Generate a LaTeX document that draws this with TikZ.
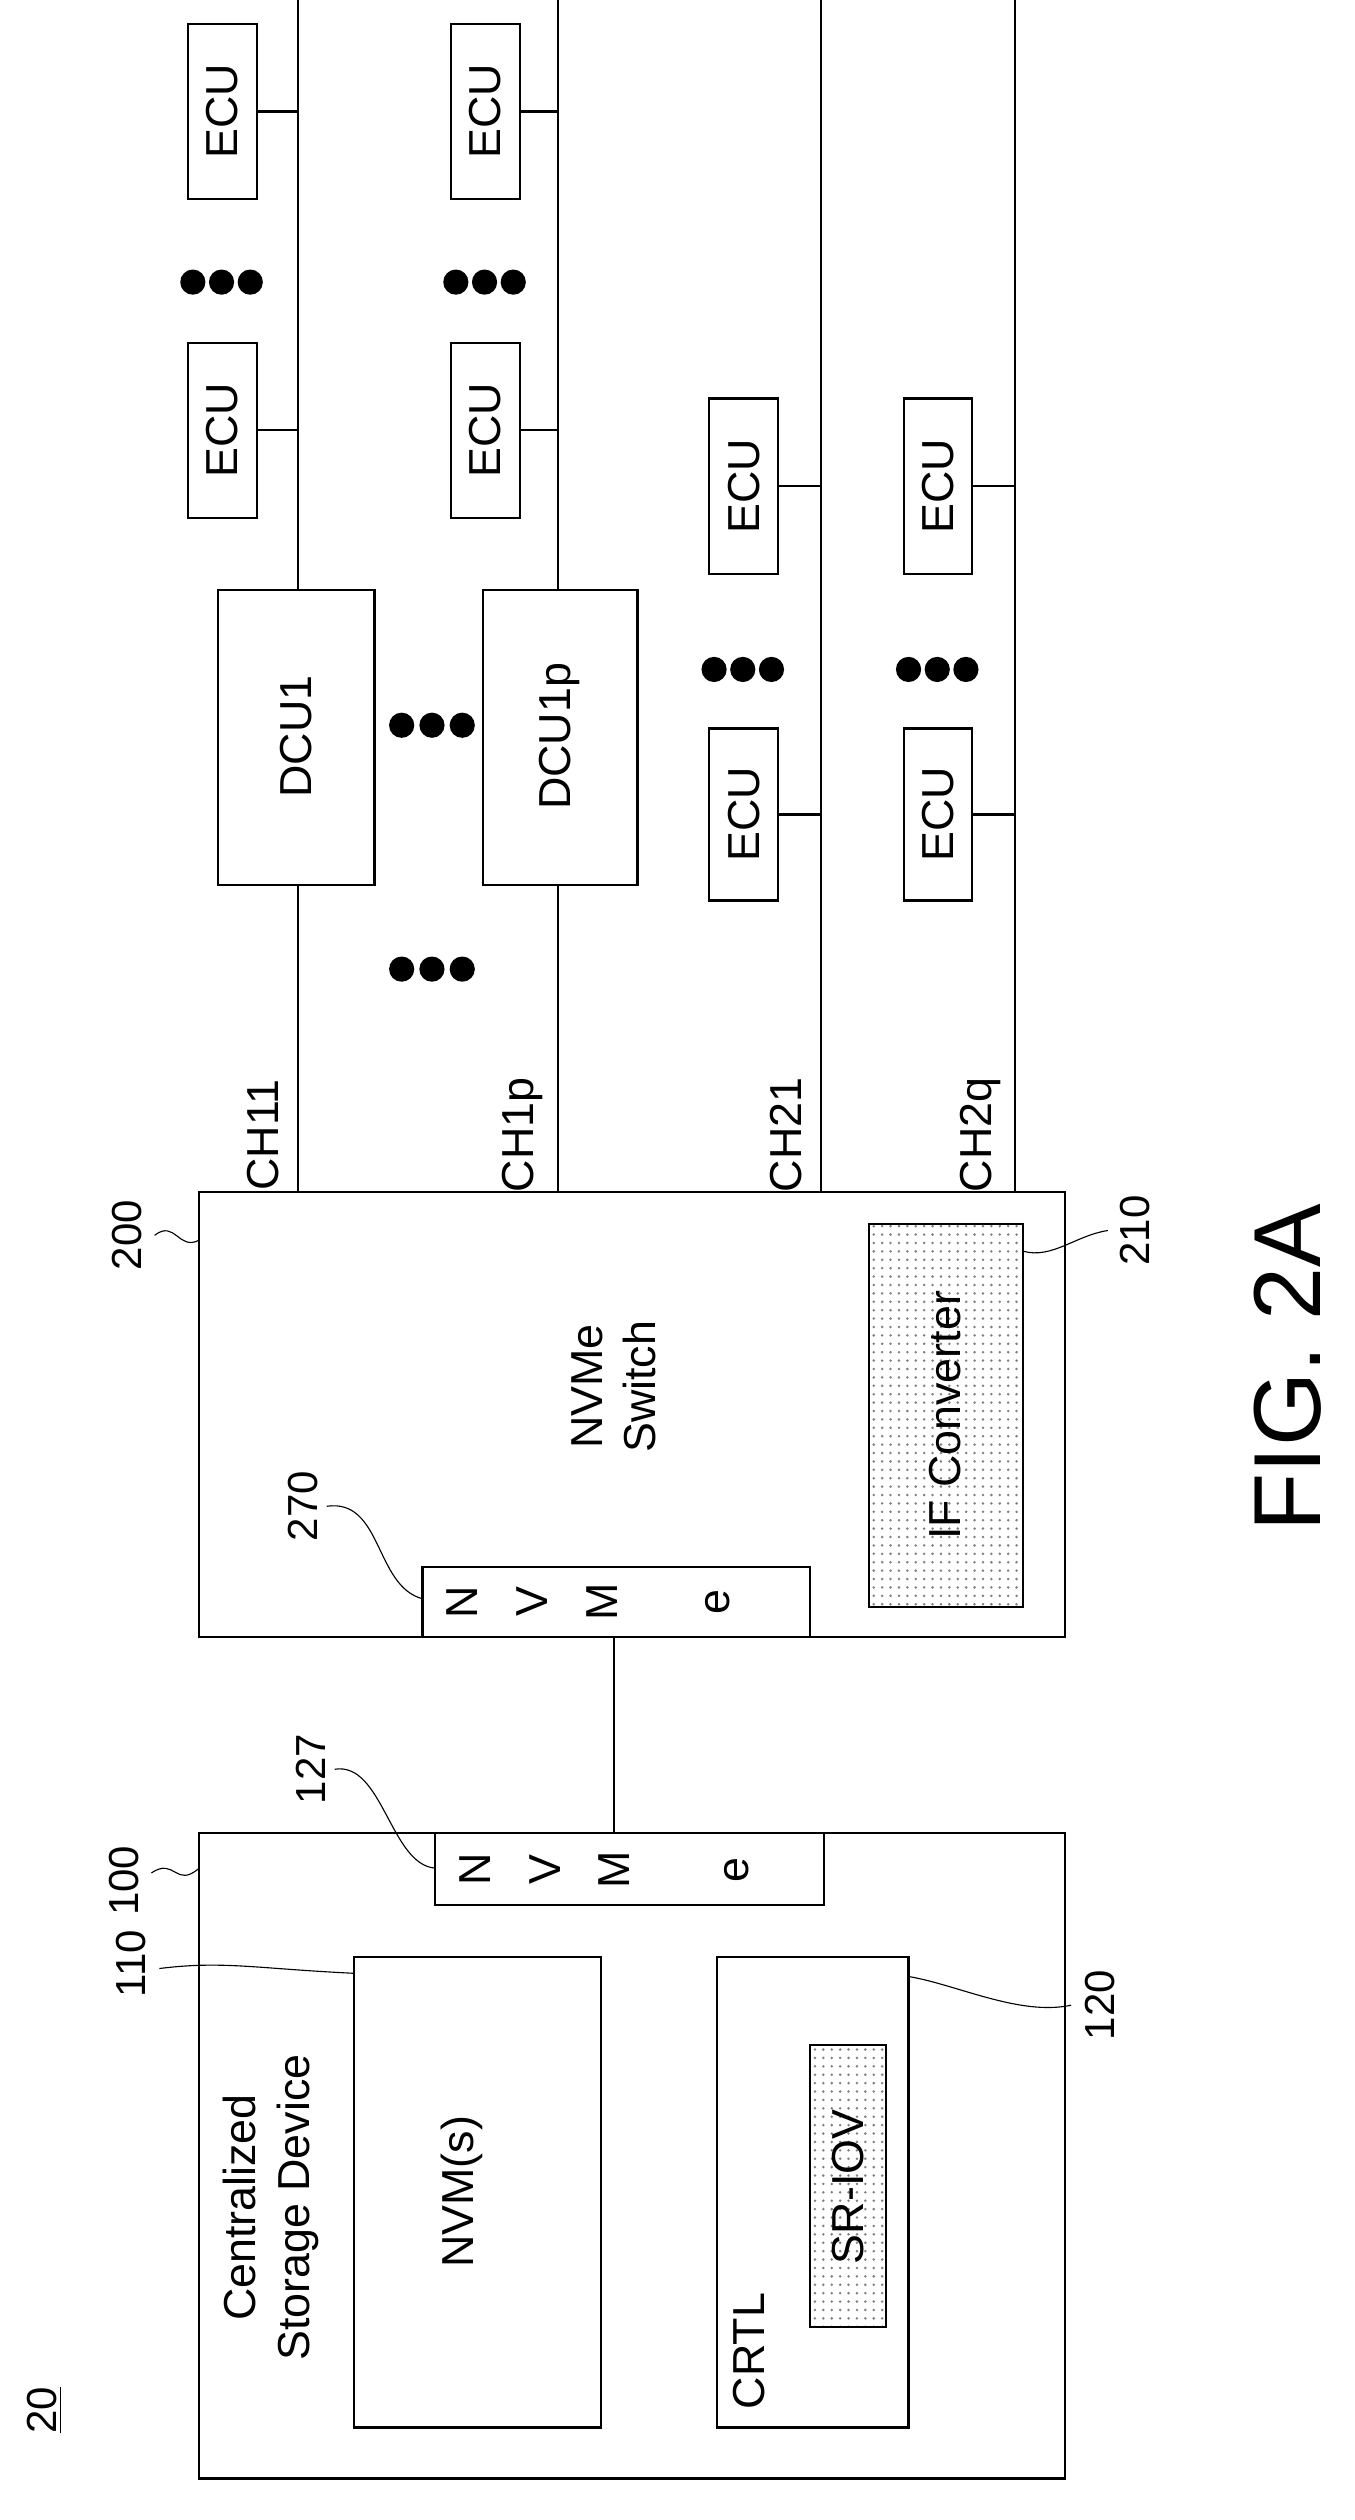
\documentclass[tikz,border=0pt]{standalone}
\usepackage{fontspec}
\setmainfont{Liberation Sans}
\usetikzlibrary{patterns}
\begin{document}
\begin{tikzpicture}[x=0.02cm, y=-0.02cm,
box/.style = {draw, thick, inner sep=0pt},
txt/.style = {rotate=90, font=\fontsize{16}{19}\selectfont, align=center},
ref/.style = {rotate=90, font=\fontsize{15}{18}\selectfont},
shade/.style = {box, pattern=dots, pattern color=gray},
bigdots/.style = {circle, fill=black, inner sep=0pt, minimum size=9pt},
    thick
                        ]
\useasboundingbox (0,0) rectangle (850,1581);

% storage device
\draw[box] (125,1150) rectangle (668,1555);
\draw[box] (222,1228) rectangle (377,1523);
\node[txt] (nvms) at (290,1375) {NVM(s)};
\draw[box] (450,1228) rectangle (570,1523);
\node[txt] (crtl) at (470,1475) {CRTL};
\draw[shade] (508,1283) rectangle (556,1460);
\node[txt] (sriov) at (532,1372) {SR-IOV};
\node[txt] (csd) at (170,1385) {Centralized\\Storage Device};
\draw[box, fill=white] (273,1150) rectangle (517,1195);
\foreach \l/\x in {N/298, V/342, M/385, e/462}
{
    \node[txt] at (\x,1173) {\l};
}

% link
\coordinate (l1) at (385,1150);
\coordinate (l2) at (385,1027);
\draw (l1) -- (l2);

% switch
\draw[box] (125,748) rectangle (668,1027);
\node[txt] (sw) at (385,870) {NVMe\\Switch};
\draw[box, fill=white] (265,983) rectangle (508,1027);
\foreach \l/\x in {N/290, V/334, M/378, e/450}
{
    \node[txt] at (\x,1005) {\l};
}
\draw[shade] (545,768) rectangle (642,1008);
\node[txt] (ifc) at (593,888) {IF Converter};

% reference labels
\node[ref] (r100) at (78,1180) {100};
\node[ref] (r110) at (82,1232) {110};
\node[ref] (r127) at (195,1110) {127};
\node[ref] (r120) at (690,1258) {120};
\node[ref] (r270) at (190,945) {270};
\node[ref] (r200) at (80,775) {200};
\node[ref] (r210) at (712,772) {210};
\draw[thin] (95,1175) .. controls (110,1165) and (110,1185) .. (125,1172);
\draw[thin] (100,1235) .. controls (140,1230) and (160,1235) .. (222,1238);
\draw[thin] (210,1110) .. controls (240,1105) and (245,1170) .. (273,1172);
\draw[thin] (570,1240) .. controls (600,1245) and (640,1265) .. (672,1258);
\draw[thin] (205,945) .. controls (240,940) and (235,995) .. (265,1003);
\draw[thin] (97,775) .. controls (110,765) and (112,785) .. (125,778);
\draw[thin] (642,785) .. controls (660,790) and (675,775) .. (695,772);

% channels
\foreach \x/\n in {187/CH11, 350/CH1p, 515/CH21, 637/CH2q}
{
    \draw (\x,748) -- (\x,0);
    \node[txt] at (\x-22,712) {\n};
}
\node[bigdots] at (252,608) {};
\node[bigdots] at (271,608) {};
\node[bigdots] at (290,608) {};

% dcus
\draw[box, fill=white] (137,370) rectangle (235,555);
\node[txt] (dcu1) at (186,462) {DCU1};
\draw[box, fill=white] (303,370) rectangle (400,555);
\node[txt] (dcu1p) at (351,462) {DCU1p};
\foreach \x in {252,271,290}
{
    \node[bigdots] at (\x,455) {};
}

% ecus
\foreach \xl/\xr/\ya/\yb/\yc/\yd/\ydot in {118/187/215/325/15/125/177, 283/350/215/325/15/125/177, 445/515/457/565/250/360/420, 567/637/457/565/250/360/420}
{
    \draw[box] (\xl,\ya) rectangle (\xl+43,\yb);
    \draw[box] (\xl,\yc) rectangle (\xl+43,\yd);
    \node[txt] at (\xl+21.5,\ya/2+\yb/2) {ECU};
    \node[txt] at (\xl+21.5,\yc/2+\yd/2) {ECU};
    \draw (\xl+43,\ya/2+\yb/2) -- (\xr,\ya/2+\yb/2);
    \draw (\xl+43,\yc/2+\yd/2) -- (\xr,\yc/2+\yd/2);
    \node[bigdots] at (\xl+3,\ydot) {};
    \node[bigdots] at (\xl+21,\ydot) {};
    \node[bigdots] at (\xl+39,\ydot) {};
}

% title
\node[rotate=90, font=\fontsize{34}{40}\selectfont] (fig) at (808,858) {FIG. 2A};
\node[ref] (n20) at (28,1512) {\underline{20}};
\end{tikzpicture}
\end{document}
